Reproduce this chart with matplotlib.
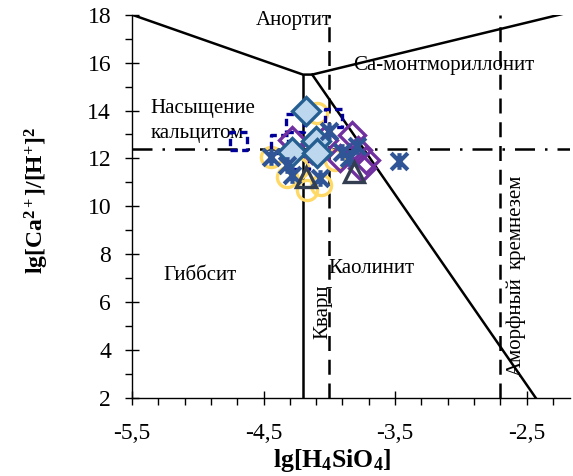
import matplotlib
matplotlib.use("Agg")
import matplotlib.pyplot as plt
from matplotlib.path import Path
from matplotlib.ticker import MultipleLocator, FixedLocator, FuncFormatter

plt.rcParams['font.family'] = ['Liberation Serif', 'DejaVu Serif']
plt.rcParams['mathtext.fontset'] = 'custom'
plt.rcParams['mathtext.rm'] = 'Liberation Serif:bold'
plt.rcParams['mathtext.bf'] = 'Liberation Serif:bold'
plt.rcParams['mathtext.it'] = 'Liberation Serif:bold:italic'

# --- data ---
circles_x = [-4.44, -4.32, -4.17, -4.06, -4.09, -4.24, -3.96]
circles_y = [12.05, 11.22, 10.68, 10.89, 13.89, 11.60, 11.93]

squares_x = [-4.69, -4.38, -4.26, -3.97, -4.22]
squares_y = [12.73, 12.60, 13.48, 13.69, 11.93]

purple_x = [-4.28, -4.04, -3.83, -3.78, -3.72, -3.75, -3.92, -4.13]
purple_y = [12.76, 12.76, 12.98, 12.35, 11.93, 11.60, 12.02, 12.35]

filled_x = [-4.18, -4.10, -4.28, -4.09]
filled_y = [13.97, 12.72, 12.27, 12.22]

stars_x = [-4.44, -4.32, -4.28, -4.07, -4.00, -3.90, -3.79, -3.85, -3.47]
stars_y = [12.05, 11.72, 11.30, 11.18, 13.14, 12.27, 12.52, 12.02, 11.90]

tri_x = [-4.18, -3.81]
tri_y = [11.22, 11.43]

# field boundaries
anorth_x = [-5.5, -4.2, -4.13, -2.1]
anorth_y = [18.0, 15.5, 15.5, 18.2]
gibbs_x = [-4.2, -4.2]
gibbs_y = [15.5, 2.0]
kaol_x = [-4.13, -2.43]
kaol_y = [15.5, 2.0]
quartz_x = -4.0
amorph_x = -2.7
calcite_y = 12.4

fig = plt.figure(figsize=(5.73, 4.76), dpi=100)
ax = fig.add_axes([132 / 573, 78 / 476, 438 / 573, 383.3 / 476])
ax.set_xlim(-5.5, -2.17)
ax.set_ylim(2, 18)

lw = 1.8
ax.plot(anorth_x, anorth_y, color='black', lw=lw, solid_joinstyle='miter')
ax.plot(gibbs_x, gibbs_y, color='black', lw=lw)
ax.plot(kaol_x, kaol_y, color='black', lw=lw)
ax.axvline(quartz_x, color='black', lw=lw, dashes=(6, 3.5))
ax.axvline(amorph_x, color='black', lw=lw, dashes=(6, 3.5))
ax.axhline(calcite_y, color='black', lw=lw, dashes=(8, 4, 1, 4))

ax.plot(circles_x, circles_y, 'o', ms=14.5, mfc='none', mec='#FFD966', mew=2.4, zorder=3)
# dashed open squares
ax.scatter(squares_x, squares_y, marker='s', s=12.5 ** 2, facecolors='none',
           edgecolors='#000099', linewidths=2.4, linestyles=(0, (2.2, 1.3)), zorder=4)
ax.plot(purple_x, purple_y, 'D', ms=13, mfc='none', mec='#7030A0', mew=2.4, zorder=5)
ax.plot(filled_x, filled_y, 'D', ms=14, mfc='#BDD7EE', mec='#255E91', mew=2.4, zorder=6)
star = Path([(-1, -1), (1, 1), (-1, 1), (1, -1), (0, -1), (0, 1)],
            [Path.MOVETO, Path.LINETO, Path.MOVETO, Path.LINETO, Path.MOVETO, Path.LINETO])
ax.plot(stars_x, stars_y, marker=star, ls='none', ms=12, mfc='none', mec='#2F5597',
        mew=3, zorder=7)
ax.plot(tri_x, tri_y, '^', ms=14, mfc='none', mec='#333F50', mew=2.4, zorder=8)

ax.text(-4.27, 17.75, 'Анортит', fontsize=15, ha='center', va='center')
ax.text(-3.13, 15.9, 'Са-монтмориллонит', fontsize=15, ha='center', va='center')
ax.text(-5.36, 14.1, 'Насыщение', fontsize=15, ha='left', va='center')
ax.text(-5.36, 13.05, 'кальцитом', fontsize=15, ha='left', va='center')
ax.text(-4.98, 7.1, 'Гиббсит', fontsize=15, ha='center', va='center')
ax.text(-3.68, 7.4, 'Каолинит', fontsize=15, ha='center', va='center')
ax.text(-4.05, 5.6, 'Кварц', fontsize=15, ha='center', va='center', rotation=90)
ax.text(-2.58, 5.0, 'Аморфный', fontsize=15, ha='center', va='center', rotation=90)
ax.text(-2.58, 9.35, 'кремнезем', fontsize=15, ha='center', va='center', rotation=90)

for s in ['top', 'right']:
    ax.spines[s].set_visible(False)
for s in ['left', 'bottom']:
    ax.spines[s].set_linewidth(1.0)

ax.xaxis.set_major_locator(FixedLocator([-5.5, -4.5, -3.5, -2.5]))
ax.xaxis.set_minor_locator(FixedLocator([-5.5 + 0.2 * i for i in range(17)]))
ax.xaxis.set_major_formatter(FuncFormatter(lambda v, p: f"{v:.1f}".replace('.', ',')))
ax.yaxis.set_major_locator(MultipleLocator(2))
ax.yaxis.set_minor_locator(MultipleLocator(1))
ax.tick_params(which='major', direction='inout', length=10, width=1.0, labelsize=17)
ax.tick_params(which='minor', direction='out', length=5, width=1.0)
ax.tick_params(axis='x', which='major', pad=13)
ax.tick_params(axis='y', which='major', pad=10)

fig.text(332 / 573, 15 / 476, r'$\mathbf{lg[H_4SiO_4]}$', fontsize=18.5, ha='center', va='center')
fig.text(37 / 573, 276 / 476, r'$\mathbf{lg[Ca^{2+}]/[H^{+}]^{2}}$', fontsize=17,
         ha='center', va='center', rotation=90)

fig.savefig('out.png', dpi=100)
